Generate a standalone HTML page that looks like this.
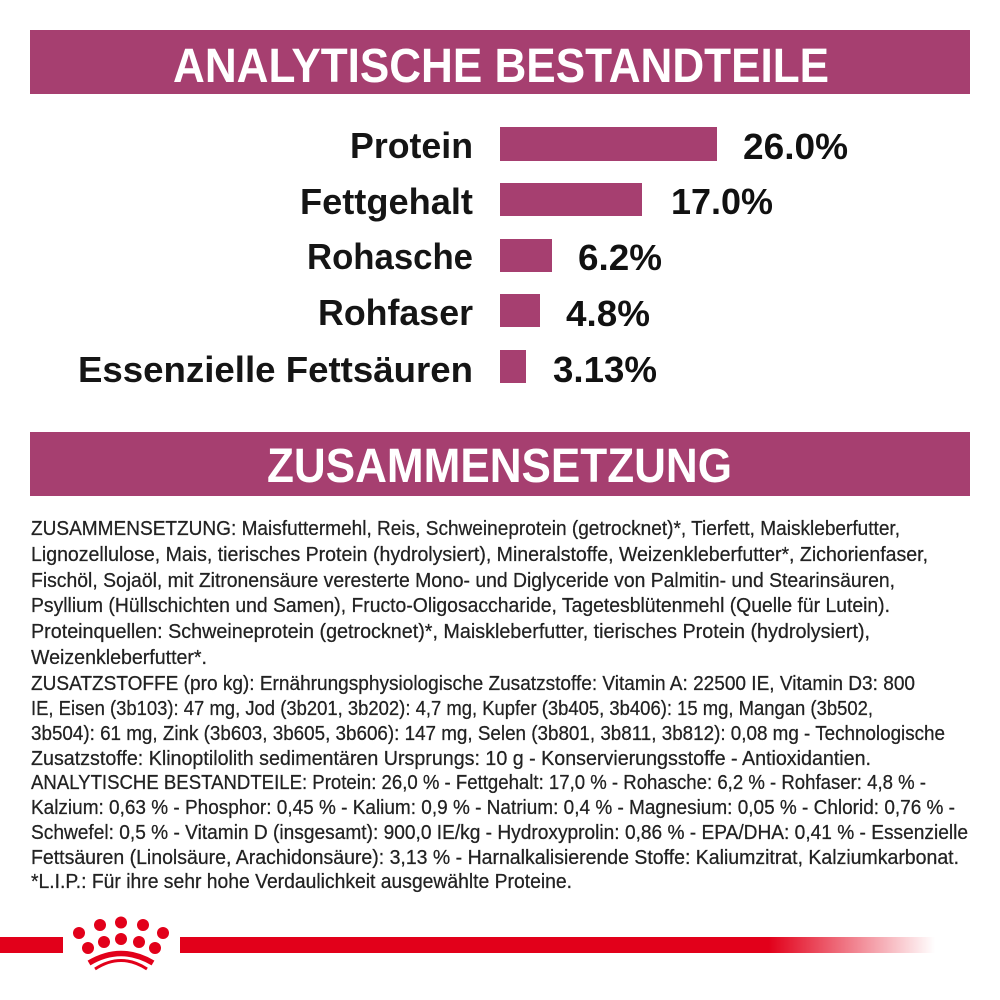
<!DOCTYPE html>
<html>
<head>
<meta charset="utf-8">
<style>
  html,body{margin:0;padding:0;background:#fff;}
  svg{display:block;}
  .hdr{font-family:"Liberation Sans",sans-serif;font-weight:bold;fill:#fff;font-size:48px;}
  .lab{font-family:"Liberation Sans",sans-serif;font-weight:bold;fill:#151515;font-size:36px;}
  .pct{font-family:"Liberation Sans",sans-serif;font-weight:bold;fill:#111;font-size:36px;}
  .body{font-family:"Liberation Sans",sans-serif;fill:#222;stroke:#222;stroke-width:0.25px;font-size:20px;}
</style>
</head>
<body>
<svg width="1000" height="1000" viewBox="0 0 1000 1000" xmlns="http://www.w3.org/2000/svg">
  <defs>
    <linearGradient id="fade" x1="180" y1="0" x2="935" y2="0" gradientUnits="userSpaceOnUse">
      <stop offset="0" stop-color="#e2001a"/>
      <stop offset="0.78" stop-color="#e2001a"/>
      <stop offset="1" stop-color="#e2001a" stop-opacity="0"/>
    </linearGradient>
  </defs>
  <rect width="1000" height="1000" fill="#fff"/>

  <!-- Header 1 -->
  <rect x="30" y="30" width="940" height="64" fill="#a63f70"/>
  <text class="hdr" x="173" y="82" textLength="656" lengthAdjust="spacingAndGlyphs">ANALYTISCHE BESTANDTEILE</text>

  <!-- Bars -->
  <rect x="500" y="127" width="217" height="34" fill="#a63f70"/>
  <rect x="500" y="183" width="142" height="33" fill="#a63f70"/>
  <rect x="500" y="239" width="52" height="33" fill="#a63f70"/>
  <rect x="500" y="294" width="40" height="33" fill="#a63f70"/>
  <rect x="500" y="350" width="26" height="33" fill="#a63f70"/>

  <!-- Labels -->
  <text class="lab" x="350" y="158" textLength="123" lengthAdjust="spacingAndGlyphs">Protein</text>
  <text class="lab" x="300" y="214" textLength="173" lengthAdjust="spacingAndGlyphs">Fettgehalt</text>
  <text class="lab" x="307" y="269" textLength="166" lengthAdjust="spacingAndGlyphs">Rohasche</text>
  <text class="lab" x="318" y="325" textLength="155" lengthAdjust="spacingAndGlyphs">Rohfaser</text>
  <text class="lab" x="78" y="382" textLength="395" lengthAdjust="spacingAndGlyphs">Essenzielle Fettsäuren</text>

  <!-- Values -->
  <text class="pct" x="743" y="159" textLength="105" lengthAdjust="spacingAndGlyphs">26.0%</text>
  <text class="pct" x="671" y="214" textLength="102" lengthAdjust="spacingAndGlyphs">17.0%</text>
  <text class="pct" x="578" y="270" textLength="84" lengthAdjust="spacingAndGlyphs">6.2%</text>
  <text class="pct" x="566" y="326" textLength="84" lengthAdjust="spacingAndGlyphs">4.8%</text>
  <text class="pct" x="553" y="382" textLength="104" lengthAdjust="spacingAndGlyphs">3.13%</text>

  <!-- Header 2 -->
  <rect x="30" y="432" width="940" height="64" fill="#a63f70"/>
  <text class="hdr" x="267" y="482" textLength="465" lengthAdjust="spacingAndGlyphs">ZUSAMMENSETZUNG</text>

  <!-- Body text -->
  <text class="body" x="31" y="535" textLength="869" lengthAdjust="spacingAndGlyphs">ZUSAMMENSETZUNG: Maisfuttermehl, Reis, Schweineprotein (getrocknet)*, Tierfett, Maiskleberfutter,</text>
  <text class="body" x="31" y="561" textLength="897" lengthAdjust="spacingAndGlyphs">Lignozellulose, Mais, tierisches Protein (hydrolysiert), Mineralstoffe, Weizenkleberfutter*, Zichorienfaser,</text>
  <text class="body" x="31" y="587" textLength="864" lengthAdjust="spacingAndGlyphs">Fischöl, Sojaöl, mit Zitronensäure veresterte Mono- und Diglyceride von Palmitin- und Stearinsäuren,</text>
  <text class="body" x="31" y="612" textLength="859" lengthAdjust="spacingAndGlyphs">Psyllium (Hüllschichten und Samen), Fructo-Oligosaccharide, Tagetesblütenmehl (Quelle für Lutein).</text>
  <text class="body" x="31" y="638" textLength="839" lengthAdjust="spacingAndGlyphs">Proteinquellen: Schweineprotein (getrocknet)*, Maiskleberfutter, tierisches Protein (hydrolysiert),</text>
  <text class="body" x="31" y="664" textLength="176" lengthAdjust="spacingAndGlyphs">Weizenkleberfutter*.</text>
  <text class="body" x="31" y="690" textLength="884" lengthAdjust="spacingAndGlyphs">ZUSATZSTOFFE (pro kg): Ernährungsphysiologische Zusatzstoffe: Vitamin A: 22500 IE, Vitamin D3: 800</text>
  <text class="body" x="31" y="715" textLength="842" lengthAdjust="spacingAndGlyphs">IE, Eisen (3b103): 47 mg, Jod (3b201, 3b202): 4,7 mg, Kupfer (3b405, 3b406): 15 mg, Mangan (3b502,</text>
  <text class="body" x="31" y="740" textLength="914" lengthAdjust="spacingAndGlyphs">3b504): 61 mg, Zink (3b603, 3b605, 3b606): 147 mg, Selen (3b801, 3b811, 3b812): 0,08 mg - Technologische</text>
  <text class="body" x="31" y="765" textLength="840" lengthAdjust="spacingAndGlyphs">Zusatzstoffe: Klinoptilolith sedimentären Ursprungs: 10 g - Konservierungsstoffe - Antioxidantien.</text>
  <text class="body" x="31" y="789" textLength="895" lengthAdjust="spacingAndGlyphs">ANALYTISCHE BESTANDTEILE: Protein: 26,0 % - Fettgehalt: 17,0 % - Rohasche: 6,2 % - Rohfaser: 4,8 % -</text>
  <text class="body" x="31" y="814" textLength="924" lengthAdjust="spacingAndGlyphs">Kalzium: 0,63 % - Phosphor: 0,45 % - Kalium: 0,9 % - Natrium: 0,4 % - Magnesium: 0,05 % - Chlorid: 0,76 % -</text>
  <text class="body" x="31" y="839" textLength="937" lengthAdjust="spacingAndGlyphs">Schwefel: 0,5 % - Vitamin D (insgesamt): 900,0 IE/kg - Hydroxyprolin: 0,86 % - EPA/DHA: 0,41 % - Essenzielle</text>
  <text class="body" x="31" y="864" textLength="928" lengthAdjust="spacingAndGlyphs">Fettsäuren (Linolsäure, Arachidonsäure): 3,13 % - Harnalkalisierende Stoffe: Kaliumzitrat, Kalziumkarbonat.</text>
  <text class="body" x="31" y="888" textLength="541" lengthAdjust="spacingAndGlyphs">*L.I.P.: Für ihre sehr hohe Verdaulichkeit ausgewählte Proteine.</text>

  <!-- Red line with crown -->
  <rect x="0" y="937" width="63" height="16" fill="#e2001a"/>
  <rect x="180" y="937" width="755" height="16" fill="url(#fade)"/>
  <g fill="#e2001a">
    <circle cx="100" cy="925" r="6"/>
    <circle cx="121" cy="922.5" r="6"/>
    <circle cx="143" cy="925" r="6"/>
    <circle cx="79" cy="933" r="6"/>
    <circle cx="163" cy="933" r="6"/>
    <circle cx="104" cy="942" r="6"/>
    <circle cx="121" cy="939" r="6"/>
    <circle cx="139" cy="942" r="6"/>
    <circle cx="88" cy="948" r="6"/>
    <circle cx="155" cy="948" r="6"/>
  </g>
  <path d="M89,963 Q121,944 153,963" fill="none" stroke="#e2001a" stroke-width="5.5"/>
  <path d="M95,969 Q121,952 147,969" fill="none" stroke="#e2001a" stroke-width="3"/>
</svg>
</body>
</html>
